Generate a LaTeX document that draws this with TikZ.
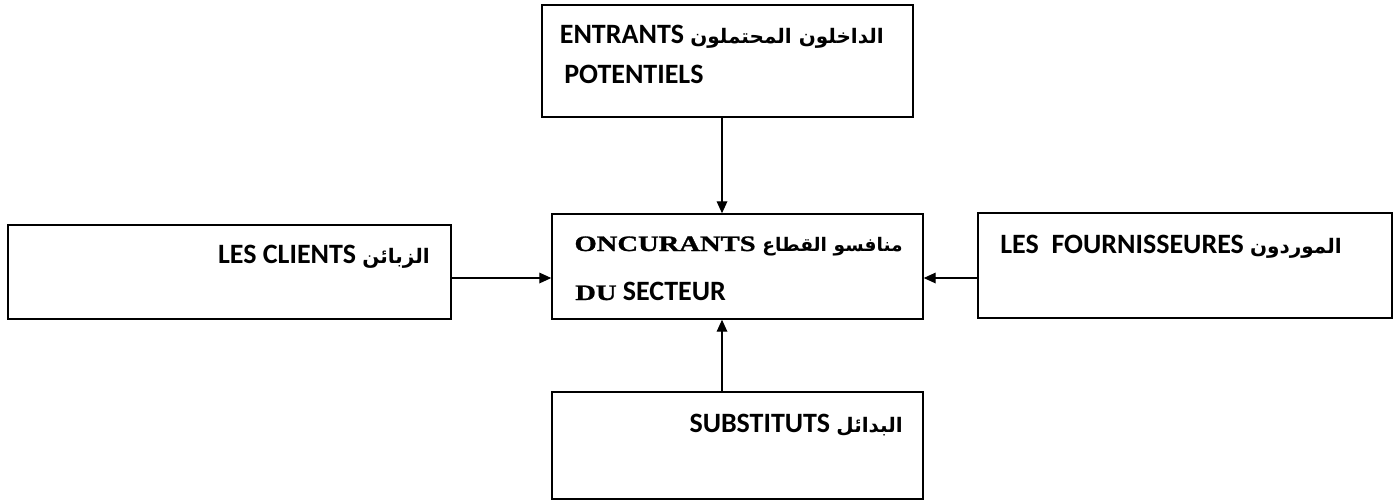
\documentclass[tikz,border=0pt]{standalone}
\usepackage{fontspec}
\setmainfont{Carlito}
\newfontfamily\arabicfont[Script=Arabic]{DejaVu Sans}
\newfontfamily\serifcaps[FakeStretch=1.3,BoldFeatures={FakeStretch=1.3,FakeBold=1.2}]{Liberation Serif}
\TeXXeTstate=1
\usetikzlibrary{arrows.meta}
% Arabic words at their own size, set right to left
\newcommand{\ar}[2][15]{{\arabicfont\fontsize{#1}{#1}\selectfont\beginR #2\endR}}
% wide serif capitals
\newcommand{\wide}[1]{{\serifcaps\fontsize{16.5}{16.5}\selectfont\bfseries #1}}
\begin{document}
\begin{tikzpicture}[x=0.75pt,y=-0.75pt,
  box/.style={draw,line width=1.1pt,inner sep=0},
  lbl/.style={inner sep=0,font=\fontsize{21}{21}\selectfont\bfseries},
  arr/.style={line width=0.9pt,-{Triangle[length=9pt,width=8pt]}}]
  \useasboundingbox (0,0) rectangle (1400,501);
  % the five forces
  \node[box,minimum width=278.25pt,minimum height=84pt] (top) at (727.5,61) {};
  \node[box,minimum width=332.25pt,minimum height=70.5pt] (lft) at (229.5,272) {};
  \node[box,minimum width=278.25pt,minimum height=78.75pt] (ctr) at (737.5,266.5) {};
  \node[box,minimum width=310.5pt,minimum height=78.75pt] (rgt) at (1185,265.5) {};
  \node[box,minimum width=278.25pt,minimum height=80.25pt] (bot) at (737.5,445.5) {};
  % labels
  \node[lbl,anchor=base east] (t1) at (884,43) {ENTRANTS \ar{الداخلون المحتملون}};
  \node[lbl,anchor=base west] (t2) at (564,83) {POTENTIELS};
  \node[lbl,anchor=base east] (l1) at (430,263) {LES CLIENTS \ar{الزبائن}};
  \node[lbl,anchor=base east] (c1) at (903,251) {\wide{ONCURANTS}\hspace{5pt}\ar[14]{منافسو القطاع}};
  \node[lbl,anchor=base west] (c2) at (575,300) {\wide{DU} SECTEUR};
  \node[lbl,anchor=base east] (r1) at (1342,253) {LES\ \ FOURNISSEURES \ar{الموردون}};
  \node[lbl,anchor=base east] (b1) at (903,432) {SUBSTITUTS \ar{البدائل}};
  % connectors
  \coordinate (vx) at (722,0);
  \coordinate (hy) at (0,278);
  \draw[arr] (top.south -| vx) -- (ctr.north -| vx);
  \draw[arr] (bot.north -| vx) -- (ctr.south -| vx);
  \draw[arr] (lft.east |- hy) -- (ctr.west |- hy);
  \draw[arr] (rgt.west |- hy) -- (ctr.east |- hy);
\end{tikzpicture}
\end{document}
